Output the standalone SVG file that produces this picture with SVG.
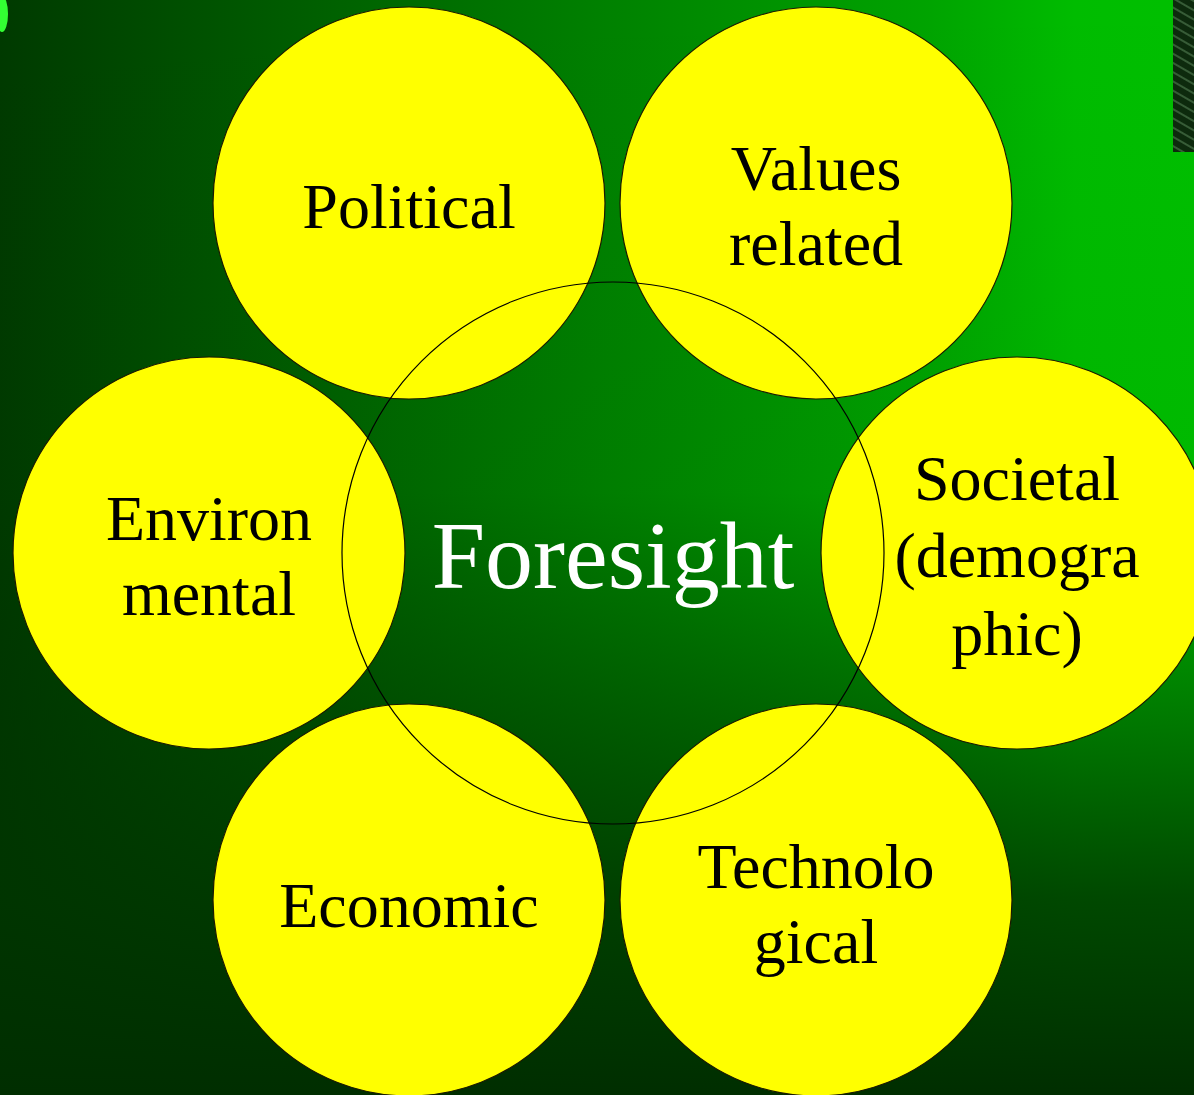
<svg xmlns="http://www.w3.org/2000/svg" width="1194" height="1095" viewBox="0 0 1194 1095">
<style>
.node{fill:#ffff00;stroke:#1a1a00;stroke-width:1.2}
.lbl{font-family:"Liberation Serif","Times New Roman",serif;font-size:64px;fill:#000;text-anchor:middle}
.hub{fill:none;stroke:#000;stroke-width:1.2}
.hubtxt{font-family:"Liberation Serif","Times New Roman",serif;font-size:96px;fill:#fff;text-anchor:middle}
</style>
<defs>
<linearGradient id="bgH" x1="0" y1="0" x2="1" y2="0">
<stop offset="0" stop-color="#003a00"/>
<stop offset="0.2" stop-color="#005600"/>
<stop offset="0.5" stop-color="#008000"/>
<stop offset="0.78" stop-color="#00a400"/>
<stop offset="0.9" stop-color="#00bc00"/>
<stop offset="1" stop-color="#00c000"/>
</linearGradient>
<linearGradient id="bgV" x1="0" y1="0" x2="0" y2="1">
<stop offset="0" stop-color="#003000" stop-opacity="0"/>
<stop offset="0.45" stop-color="#003000" stop-opacity="0.05"/>
<stop offset="0.82" stop-color="#003400" stop-opacity="0.85"/>
<stop offset="1" stop-color="#002e00" stop-opacity="1"/>
</linearGradient>
<pattern id="mesh" width="8" height="8" patternUnits="userSpaceOnUse" patternTransform="rotate(30)">
<rect width="8" height="8" fill="#0d2a0d"/>
<path d="M0 4 H8" stroke="#6a9a6a" stroke-width="1.5" opacity="0.6"/>
</pattern>
</defs>
<rect width="1194" height="1095" fill="url(#bgH)"/>
<rect width="1194" height="1095" fill="url(#bgV)"/>
<rect x="1173" y="0" width="21" height="152" fill="url(#mesh)"/>
<ellipse cx="2" cy="14" rx="6" ry="18" fill="#33ff33"/>

<g id="political"><circle class="node" cx="409" cy="203" r="196"/><text class="lbl" x="409" y="228">Political</text></g>
<g id="values"><circle class="node" cx="816" cy="203" r="196"/><text class="lbl" x="816" y="190">Values</text><text class="lbl" x="816" y="265">related</text></g>
<g id="environmental"><circle class="node" cx="209" cy="553" r="196"/><text class="lbl" x="209" y="540">Environ</text><text class="lbl" x="209" y="615">mental</text></g>
<g id="societal"><circle class="node" cx="1017" cy="553" r="196"/><text class="lbl" x="1017" y="500">Societal</text><text class="lbl" x="1017" y="577">(demogra</text><text class="lbl" x="1017" y="655">phic)</text></g>
<g id="economic"><circle class="node" cx="409" cy="900" r="196"/><text class="lbl" x="409" y="927">Economic</text></g>
<g id="technological"><circle class="node" cx="816" cy="900" r="196"/><text class="lbl" x="816" y="888">Technolo</text><text class="lbl" x="816" y="963">gical</text></g>

<g id="connectors"></g>

<g id="foresight"><circle class="hub" cx="613" cy="553" r="271"/><text class="hubtxt" x="613" y="588">Foresight</text></g>
</svg>
